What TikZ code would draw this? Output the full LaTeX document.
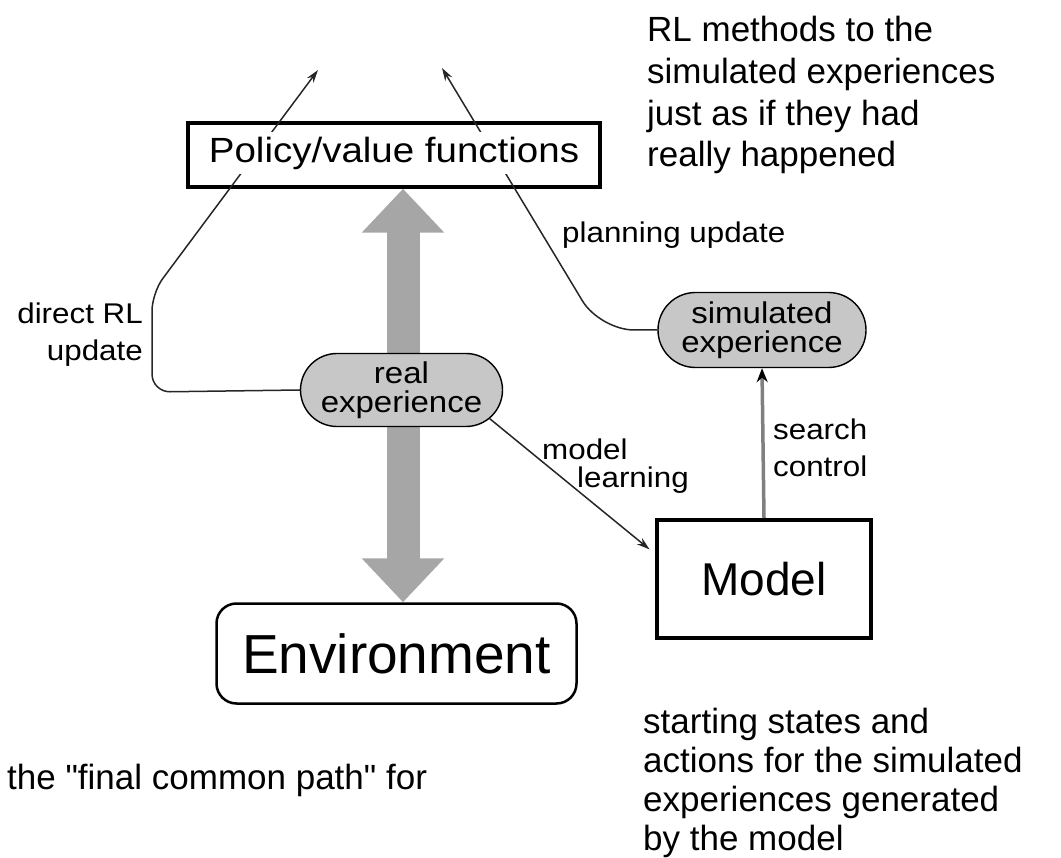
\documentclass[tikz,border=0pt]{standalone}
\usepackage{fontspec}
\setmainfont{Liberation Sans}[Ligatures=TeXOff]
\newfontfamily\dfont[FakeStretch=1.1]{Liberation Sans}
\usetikzlibrary{shapes.misc,arrows.meta}
\newcommand\fsz[2]{\fontsize{#1}{#2}\selectfont}
\begin{document}
\begin{tikzpicture}[x=1pt,y=-1pt,
  conn/.style={line width=1.5pt, draw=black!85, -{Stealth[length=13pt,width=8pt]}},
  pill/.style={rounded rectangle, draw, line width=1.4pt, fill=black!22, align=center,
    inner sep=0pt, font=\dfont\fsz{30}{29}},
  lbl/.style={font=\dfont\fsz{28.5}{37}, inner sep=0pt},
  note/.style={font=\fsz{35}{41.7}, align=left, inner sep=0pt},
  bigarrow/.style={line width=33pt, draw=black!35,
    {Triangle[length=44pt,width=80pt]}-{Triangle[length=44pt,width=80pt]}}
]
\useasboundingbox (0,0) rectangle (1061,858);

% boxes
\node[draw, line width=3.5pt, minimum width=412pt, minimum height=64pt, inner sep=0pt] (pv) at (394,155) {};
\node[draw, rounded corners=20pt, line width=2.5pt, minimum width=360pt, minimum height=100pt,
  font=\fsz{55}{60}] (env) at (396.5,653.5) {Environment};
\node[draw, line width=4pt, minimum width=214pt, minimum height=118pt,
  font=\fsz{46}{50}] (model) at (764,579) {Model};

% big double arrow
\coordinate (ax) at (403,0);
\draw[bigarrow] (ax |- pv.south) -- (ax |- env.north);

% pills
\node[pill, minimum width=202pt, minimum height=73pt] (re) at (401.5,390) {real\\experience};
\node[pill, minimum width=208pt, minimum height=75pt] (se) at (762,330) {simulated\\experience};

% connectors
\coordinate (drl) at (318,70);
\coordinate (plu) at (442,68);
\draw[conn, rounded corners=18pt] (re.west) -- (152,392) -- (152,293) -- (drl);
\draw[conn, rounded corners=34pt] (se.west) -- (600,330) -- (plu);
\draw[conn, shorten >=7pt] (re.-18) -- (model.167);
\draw[line width=3.5pt, draw=black!50, -{Stealth[length=14pt,width=11pt,color=black]}] (model.north) -- (se.south);

% policy text over the lines
\node[fill=white, inner sep=5pt, font=\dfont\fsz{35}{40}] (pvt) at (394,153) {Policy/value functions};

% labels
\node[lbl, align=right, anchor=base east] (ldrl) at (143,361) {direct RL\\update};
\node[lbl, anchor=base west] (lplan) at (562,243) {planning update};
\node[lbl, anchor=base west] (lmod) at (542,460) {model};
\node[lbl, anchor=base west] (llearn) at (577,488) {learning};
\node[lbl, align=left, anchor=base west] (lsc) at (773,477) {search\\control};

% annotations
\node[note, anchor=base west] (n1) at (647,167) {RL methods to the\\simulated experiences\\just as if they had\\really happened};
\node[note, font=\fsz{35}{39}, anchor=base west] (n2) at (643,850) {starting states and\\actions for the simulated\\experiences generated\\by the model};
\node[note, anchor=base west] (n3) at (7,789) {the "final common path" for};
\end{tikzpicture}
\end{document}
